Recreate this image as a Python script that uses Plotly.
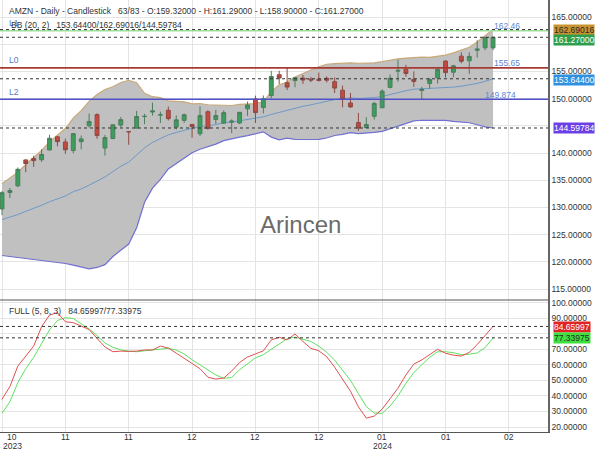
import plotly.graph_objects as go

# ---------------- data ----------------
bar_index = list(range(63))
opens = [129.72, 132.75, 133.96, 138.73, 138.99, 138.76, 140.55, 142.97, 142.02, 140.46,
         142.08, 145.00, 147.06, 140.91, 142.66, 145.13, 143.91, 144.57, 146.70, 147.53,
         146.98, 147.85, 144.76, 146.00, 145.25, 143.55, 147.58, 146.15, 145.48, 145.66,
         145.52, 148.12, 149.93, 148.38, 150.56, 154.40, 152.90, 153.30, 153.77, 153.56,
         153.56, 153.72, 153.10, 151.54, 149.20, 145.59, 144.69, 146.74, 148.33, 152.06,
         155.04, 155.39, 153.53, 151.49, 152.77, 153.83, 156.89, 154.85, 157.80, 156.95,
         158.88, 159.34, 159.32]
highs = [133.00, 133.57, 137.35, 138.81, 139.49, 140.73, 143.37, 143.12, 142.65, 143.65,
         143.23, 147.26, 147.29, 143.32, 145.23, 146.63, 144.05, 147.74, 147.20, 149.26,
         147.60, 148.54, 146.93, 147.25, 145.35, 148.57, 147.85, 147.92, 147.84, 146.19,
         147.50, 149.46, 150.54, 150.57, 155.09, 155.12, 155.63, 153.97, 154.35, 153.98,
         154.78, 154.08, 153.89, 152.38, 151.05, 147.38, 146.59, 149.40, 151.71, 154.42,
         157.17, 156.20, 154.99, 152.15, 153.78, 155.76, 157.05, 156.21, 158.51, 158.51,
         160.72, 161.29, 161.29]
lows = [128.56, 131.71, 133.71, 136.47, 137.45, 138.36, 140.50, 141.22, 139.84, 139.91,
        140.67, 144.68, 142.59, 139.52, 142.54, 144.73, 141.50, 144.57, 145.32, 146.88,
        145.53, 145.97, 144.33, 145.55, 142.81, 143.13, 144.28, 145.34, 145.40, 143.64,
        145.30, 146.82, 145.52, 147.27, 150.06, 152.69, 151.56, 152.10, 152.71, 153.03,
        153.12, 152.95, 151.03, 148.39, 148.33, 144.05, 144.53, 146.15, 148.21, 151.88,
        153.12, 154.01, 152.15, 149.91, 151.82, 152.74, 153.90, 153.93, 156.48, 154.55,
        157.55, 158.90, 158.90]
closes = [132.71, 133.09, 137.00, 138.07, 138.60, 139.74, 142.71, 142.08, 140.60, 143.56,
          142.59, 145.80, 143.20, 142.83, 145.18, 146.13, 143.90, 146.71, 146.74, 147.73,
          147.03, 146.32, 146.09, 147.03, 144.84, 146.88, 144.52, 146.88, 147.42, 145.89,
          147.48, 148.84, 147.42, 149.97, 154.07, 153.79, 152.12, 153.84, 153.42, 153.41,
          153.34, 153.38, 151.94, 149.93, 148.47, 144.57, 145.24, 149.10, 151.37, 153.73,
          155.18, 154.62, 153.16, 151.71, 153.50, 155.34, 154.78, 156.02, 156.87, 157.75,
          159.12, 161.26, 161.27]

bb_upper = [134.36, 135.38, 136.48, 137.88, 139.22, 140.49, 142.05, 143.26, 144.49, 146.39,
            147.79, 149.50, 150.76, 151.68, 152.18, 152.96, 153.37, 152.92, 150.96, 150.35,
            150.18, 149.59, 149.48, 149.40, 149.04, 149.10, 148.87, 148.83, 148.87, 148.73,
            148.93, 148.98, 149.08, 149.41, 151.26, 152.53, 153.06, 153.98, 154.68, 155.26,
            155.86, 156.31, 156.42, 156.51, 156.55, 156.50, 156.52, 156.58, 156.79, 157.07,
            157.29, 157.45, 157.55, 157.62, 157.59, 157.77, 158.00, 158.41, 158.88, 159.44,
            160.39, 161.55, 162.69016]
bb_mid = [127.76, 128.18, 128.68, 129.28, 129.82, 130.39, 131.05, 131.56, 132.09, 132.89,
          133.39, 134.10, 134.86, 135.58, 136.58, 137.56, 138.32, 139.59, 140.95, 141.95,
          142.66, 143.33, 143.78, 144.23, 144.54, 144.90, 144.99, 145.23, 145.57, 145.69,
          145.93, 146.08, 146.29, 146.65, 147.09, 147.47, 147.89, 148.24, 148.58, 148.86,
          149.18, 149.53, 149.82, 149.97, 150.15, 150.03, 150.07, 150.18, 150.38, 150.77,
          151.09, 151.45, 151.73, 151.82, 151.79, 151.87, 152.00, 152.11, 152.28, 152.50,
          152.79, 153.18, 153.644]
bb_lower = [121.16, 120.98, 120.88, 120.68, 120.42, 120.29, 120.05, 119.86, 119.69, 119.39,
            118.99, 118.70, 118.96, 119.48, 120.98, 122.16, 123.27, 126.26, 130.94, 133.55,
            135.14, 137.07, 138.08, 139.06, 140.04, 140.70, 141.11, 141.63, 142.27, 142.65,
            142.93, 143.18, 143.50, 143.89, 142.92, 142.41, 142.72, 142.50, 142.48, 142.46,
            142.50, 142.75, 143.22, 143.43, 143.75, 143.56, 143.62, 143.78, 143.97, 144.47,
            144.89, 145.45, 145.91, 146.02, 145.99, 145.97, 146.00, 145.81, 145.68, 145.56,
            145.19, 144.81, 144.59784]

stoch_k = [37.8, 46.0, 59.2, 66.0, 72.0, 84.5, 92.0, 93.5, 87.7, 87.1,
           84.8, 82.7, 77.0, 71.5, 68.4, 68.8, 68.6, 68.8, 69.5, 69.5,
           72.0, 70.8, 67.5, 64.0, 60.5, 57.5, 52.0, 50.8, 51.5, 56.0,
           61.5, 65.0, 67.0, 69.0, 76.0, 77.7, 76.0, 79.8, 75.0, 70.6,
           69.0, 65.2, 58.5, 50.5, 43.0, 33.0, 25.7, 27.0, 31.5, 38.2,
           45.0, 53.5, 60.5, 63.1, 66.5, 70.0, 67.4, 66.2, 65.6, 68.0,
           73.0, 79.0, 84.65997]
stoch_d = [28.8, 36.3, 48.5, 57.5, 64.8, 74.0, 82.5, 88.5, 90.3, 89.8,
           86.5, 83.0, 78.8, 74.0, 71.3, 69.6, 68.8, 68.4, 69.0, 69.5,
           70.2, 70.6, 69.5, 67.0, 63.2, 60.0, 56.5, 53.5, 51.3, 51.8,
           56.8, 60.5, 64.5, 66.5, 70.0, 73.5, 76.8, 77.8, 76.5, 75.0,
           72.0, 68.0, 63.0, 56.7, 50.0, 41.5, 33.1, 29.0, 28.8, 33.5,
           40.0, 48.1, 55.0, 60.0, 64.8, 68.4, 68.4, 67.8, 66.5, 66.8,
           67.6, 71.0, 77.33975]

x_tick_pos = [0, 8, 16, 24, 32, 40, 48, 56, 64]
x_tick_text = ['10', '11', '11', '12', '12', '12', '01', '01', '02']
year_labels = {0: '2023', 48: '2024'}
main_ticks = [115, 120, 125, 130, 135, 140, 145, 150, 155, 160, 165]
main_tick_text = ['115.00000', '120.00000', '125.00000', '130.00000', '135.00000',
                  '140.00000', '', '150.00000', '155.00000', '', '165.00000']
osc_ticks = [20, 30, 40, 50, 60, 70, 80, 90, 100]
osc_tick_text = ['20.00000', '30.00000', '40.00000', '50.00000', '60.00000',
                 '70.00000', '', '90.00000', '100.00000']

level_names = ['L0', 'L1', 'L2']
level_values = [155.65, 162.46, 149.874]
level_labels = ['155.65', '162.46', '149.874']
level_colors = ['#a83a34', '#9fe29a', '#5050c8']

last_bb_upper = 162.69016
last_close = 161.27
last_bb_mid = 153.644
last_bb_lower = 144.59784
last_k = 84.65997
last_d = 77.33975

# ---------------- layout geometry ----------------
W, H = 600, 450
ML, MR, MT, MB = 0, 52, 0, 18
PW, PH = W - ML - MR, H - MT - MB  # 548 x 432
SPLIT = 300  # px from top where the oscillator panel starts


def py(ypix):
    return (PH - ypix) / PH


def px(xpix):
    return xpix / PW


split_frac = py(SPLIT)

FONT = 'Liberation Sans, Arial, sans-serif'
TXT = '#333333'
FS = 8.5

fig = go.Figure()

# Bollinger band fill (base axis, drawn underneath)
fig.add_trace(go.Scatter(x=bar_index, y=bb_upper, mode='lines',
                         line=dict(color='#c9a978', width=1.2), hoverinfo='skip',
                         showlegend=False, xaxis='x', yaxis='y'))
fig.add_trace(go.Scatter(x=bar_index, y=bb_lower, mode='lines', fill='tonexty',
                         fillcolor='#c0c0c0',
                         line=dict(color='#7070d2', width=1.2), hoverinfo='skip',
                         showlegend=False, xaxis='x', yaxis='y'))
fig.add_trace(go.Scatter(x=bar_index, y=bb_mid, mode='lines',
                         line=dict(color='#6c9ac8', width=1), hoverinfo='skip',
                         showlegend=False, xaxis='x', yaxis='y'))

# candles on an overlaying axis so they sit on top of the band fill
fig.add_trace(go.Candlestick(
    x=bar_index, open=opens, high=highs, low=lows, close=closes,
    increasing=dict(line=dict(color='#4d7d5c', width=1), fillcolor='#3a9e5c'),
    decreasing=dict(line=dict(color='#8e4a44', width=1), fillcolor='#c4493f'),
    whiskerwidth=0, showlegend=False, xaxis='x', yaxis='y3'))

# stochastic
fig.add_trace(go.Scatter(x=bar_index, y=stoch_d, mode='lines',
                         line=dict(color='#5fe05f', width=1), showlegend=False,
                         xaxis='x', yaxis='y2'))
fig.add_trace(go.Scatter(x=bar_index, y=stoch_k, mode='lines',
                         line=dict(color='#e05050', width=1), showlegend=False,
                         xaxis='x', yaxis='y2'))

shapes = []
for v, c in zip(level_values, level_colors):
    shapes.append(dict(type='line', xref='paper', x0=0, x1=1, yref='y', y0=v, y1=v,
                       line=dict(color=c, width=1.6), layer='above'))
for v in [last_bb_upper, last_close, last_bb_mid, last_bb_lower]:
    shapes.append(dict(type='line', xref='paper', x0=0, x1=1, yref='y', y0=v, y1=v,
                       line=dict(color='#333333', width=1, dash='3px,3px'), layer='above'))
for v in [last_k, last_d]:
    shapes.append(dict(type='line', xref='paper', x0=0, x1=1, yref='y2', y0=v, y1=v,
                       line=dict(color='#333333', width=1, dash='3px,3px'), layer='above'))
shapes.append(dict(type='line', xref='paper', x0=0, x1=1, yref='paper',
                   y0=split_frac, y1=split_frac, line=dict(color='#555555', width=1),
                   layer='above'))

ann = []


def text(x, y, s, size=FS, color=TXT, anchor='left'):
    ann.append(dict(xref='paper', yref='paper', x=px(x), y=py(y), text=s,
                    showarrow=False, xanchor=anchor, yanchor='middle',
                    font=dict(family=FONT, size=size, color=color)))


sp = '\u00a0'
text(7, 10.5, 'AMZN - Daily - Candlestick' + sp * 3 +
     '63/83 - O:159.32000 - H:161.29000 - L:158.90000 - C:161.27000')
text(7, 23.5, level_names[1], color='#5b7cc0')
text(9, 25, 'BB (20, 2)' + sp * 3 + '153.64400/162.69016/144.59784')
text(7, 60, level_names[0], color='#5b7cc0')
text(7, 92, level_names[2], color='#5b7cc0')
text(492, 26, level_labels[1], color='#5f86d4')
text(492, 63, level_labels[0], color='#5f86d4')
text(483, 95, level_labels[2], color='#5f86d4')
text(7, 311, 'FULL (5, 8, 3)' + sp * 3 + '84.65997/77.33975')
text(300, 224, 'Arincen', size=24, color='#6b6b6b', anchor='center')

box_specs = [
    (last_bb_upper, 'y', '162.69016', '#c8932f', '#2a2a2a', 0),
    (last_close, 'y', '161.27000', '#2e9e4c', '#ffffff', -3),
    (last_bb_mid, 'y', '153.64400', '#2f8fe0', '#ffffff', -1),
    (last_bb_lower, 'y', '144.59784', '#6a40e6', '#ffffff', 0),
    (last_k, 'y2', '84.65997', '#e02424', '#ffffff', -1),
    (last_d, 'y2', '77.33975', '#3ee03e', '#2a2a2a', 0),
]
for v, yr, s, bg, fc, ysh in box_specs:
    ann.append(dict(xref='paper', yref=yr, x=1, y=v, text=s, showarrow=False,
                    xanchor='left', yanchor='middle', xshift=5, yshift=ysh,
                    bgcolor=bg, borderpad=0,
                    font=dict(family=FONT, size=FS, color=fc)))

for p, t in zip(x_tick_pos, x_tick_text):
    ann.append(dict(xref='x', yref='paper', x=p, y=py(437.5), text=t, showarrow=False,
                    xanchor='center', yanchor='middle', xshift=10 if p == 0 else 0,
                    font=dict(family=FONT, size=FS, color=TXT)))
for p, t in year_labels.items():
    ann.append(dict(xref='x', yref='paper', x=p, y=py(445.5), text=t, showarrow=False,
                    xanchor='center', yanchor='middle', xshift=10 if p == 0 else 0,
                    font=dict(family=FONT, size=FS, color=TXT)))

dx = 7.92
x_left = -2 / dx
x_right = (PW - 2) / dx

ppu_main = 5.44
main_top = 165 + 17 / ppu_main
main_bot = 165 - (SPLIT - 17) / ppu_main
ppu_osc = 1.555
osc_top = 100 + (302.6 - SPLIT) / ppu_osc
osc_bot = 100 - (PH - 302.6) / ppu_osc

grid = '#e4e4e4'
fig.update_layout(
    width=W, height=H, margin=dict(l=ML, r=MR, t=MT, b=MB, pad=0),
    template=None, paper_bgcolor='white', plot_bgcolor='white',
    showlegend=False, hovermode=False,
    font=dict(family=FONT, size=FS, color=TXT),
    xaxis=dict(domain=[0, 1], range=[x_left, x_right], anchor='y2',
               tickmode='array', tickvals=x_tick_pos, showticklabels=False,
               showgrid=True, gridcolor=grid, gridwidth=1, zeroline=False,
               showline=True, linecolor='#555555', linewidth=1, ticks='',
               rangeslider=dict(visible=False), automargin=False, fixedrange=True),
    yaxis=dict(domain=[split_frac, 1], range=[main_bot, main_top], side='right',
               anchor='x', tickmode='array', tickvals=main_ticks,
               ticktext=main_tick_text,
               showgrid=True, gridcolor=grid, zeroline=False, ticks='',
               showline=True, linecolor='#666666', linewidth=1.5,
               tickfont=dict(family=FONT, size=FS, color=TXT), automargin=False),
    yaxis3=dict(overlaying='y', range=[main_bot, main_top], side='right', anchor='x',
                visible=False, showgrid=False, zeroline=False, automargin=False),
    yaxis2=dict(domain=[0, split_frac], range=[osc_bot, osc_top], side='right',
                anchor='x', tickmode='array', tickvals=osc_ticks,
                ticktext=osc_tick_text,
                showgrid=True, gridcolor=grid, zeroline=False, ticks='',
                showline=True, linecolor='#666666', linewidth=1.5,
                tickfont=dict(family=FONT, size=FS, color=TXT), automargin=False),
    shapes=shapes, annotations=ann,
)

fig.write_html('out.html')
